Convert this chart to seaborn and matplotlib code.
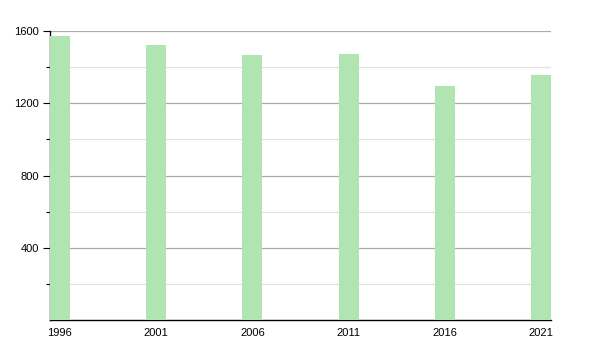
import matplotlib
matplotlib.use("Agg")
import matplotlib.pyplot as plt
import seaborn as sns
import pandas as pd
from matplotlib.ticker import FixedLocator

years = [1996, 2001, 2006, 2011, 2016, 2021]
values = [1571, 1521, 1466, 1472, 1295, 1355]
ytick_values = [400, 800, 1200, 1600]
ytick_labels = ["400", "800", "1200", "1600"]

sns.set_style("white")
plt.rcParams['font.family'] = ['Liberation Sans', 'DejaVu Sans']

df = pd.DataFrame({"year": years, "value": values})

fig = plt.figure(figsize=(6, 3.5), dpi=100)
ax = fig.add_axes([50/600, 30/350, 501/600, 289/350])

sns.barplot(data=df, x="year", y="value", native_scale=True, width=0.21,
            color="#b0e4b0", saturation=1, ax=ax, zorder=3,
            edgecolor="none", linewidth=0)

ax.set_xlim(years[0] - 0.5, years[-1] + 0.5)
ax.set_ylim(0, 1600)
ax.set_xticks(years)
ax.set_xticklabels([str(y) for y in years], fontsize=8, color="black")
ax.set_yticks(ytick_values)
ax.set_yticklabels(ytick_labels, fontsize=8, color="black")
ax.yaxis.set_minor_locator(FixedLocator([200, 600, 1000, 1400]))

ax.grid(axis="y", which="major", color="#aaaaaa", linewidth=0.9, zorder=0)
ax.grid(axis="y", which="minor", color="#e2e2e2", linewidth=0.9, zorder=0)
ax.set_axisbelow(True)

for s in ["top", "right"]:
    ax.spines[s].set_visible(False)
for s in ["left", "bottom"]:
    ax.spines[s].set_color("black")
    ax.spines[s].set_linewidth(1.0)

ax.tick_params(axis="y", which="major", left=True, length=5, width=0.8, color="black", pad=3)
ax.tick_params(axis="y", which="minor", left=True, length=3, width=0.8, color="black")
ax.tick_params(axis="x", which="both", bottom=False, pad=2)
ax.set_xlabel("")
ax.set_ylabel("")

fig.savefig("out.png", dpi=100)
